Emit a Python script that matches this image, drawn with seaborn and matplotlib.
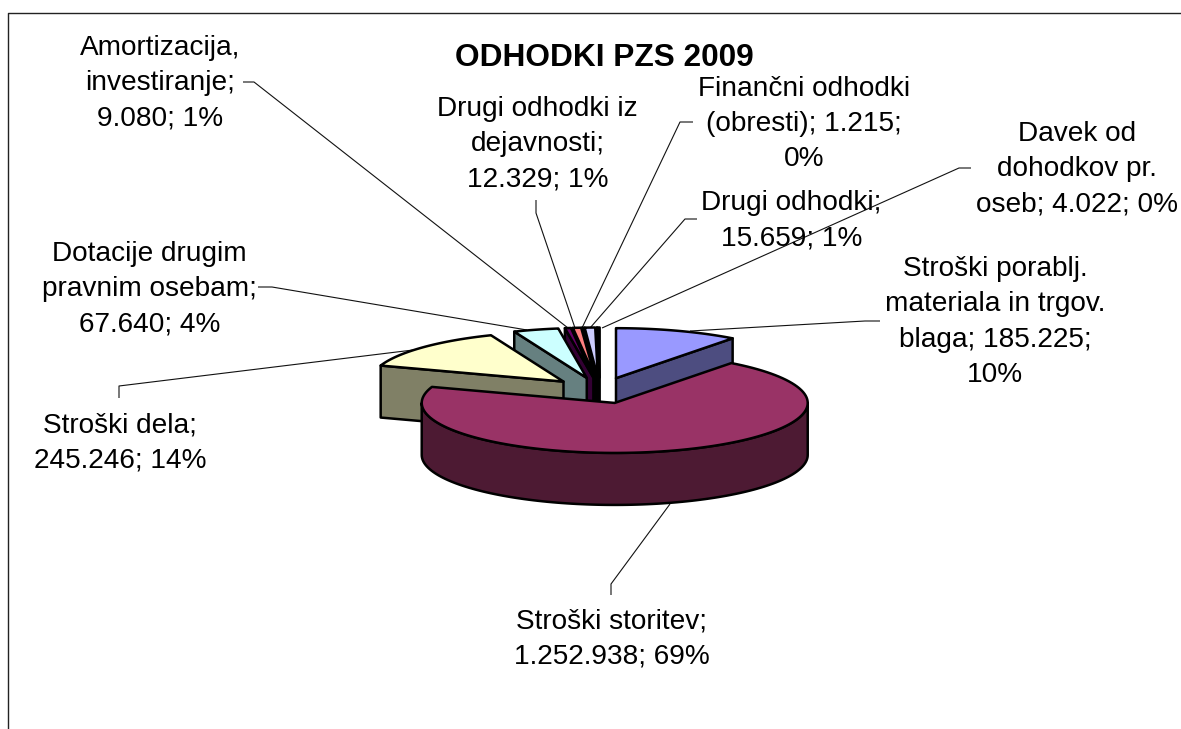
import numpy as np
import matplotlib
matplotlib.use("Agg")
import matplotlib.pyplot as plt
from matplotlib.patches import Polygon
import seaborn as sns

# ---- data ----
categories = ["Stroški porablj. materiala in trgov. blaga", "Stroški storitev", "Stroški dela",
              "Dotacije drugim pravnim osebam", "Amortizacija, investiranje",
              "Drugi odhodki iz dejavnosti", "Finančni odhodki (obresti)", "Drugi odhodki",
              "Davek od dohodkov pr. oseb"]
values = [185225, 1252938, 245246, 67640, 9080, 12329, 1215, 15659, 4022]
percents = [10, 69, 14, 4, 1, 1, 0, 1, 0]
colors = ["#9999FF", "#993366", "#FFFFCC", "#CCFFFF", "#660066", "#FF8080", "#0066CC", "#CCCCFF", "#000080"]
title = "ODHODKI PZS 2009"
label_lines = [
    ["Stroški porablj.", "materiala in trgov.", "blaga; {v};", "{p}"],
    ["Stroški storitev;", "{v}; {p}"],
    ["Stroški dela;", "{v}; {p}"],
    ["Dotacije drugim", "pravnim osebam;", "{v}; {p}"],
    ["Amortizacija,", "investiranje;", "{v}; {p}"],
    ["Drugi odhodki iz", "dejavnosti;", "{v}; {p}"],
    ["Finančni odhodki", "(obresti); {v};", "{p}"],
    ["Drugi odhodki;", "{v}; {p}"],
    ["Davek od", "dohodkov pr.", "oseb; {v}; {p}"],
]
# label centre x, baseline y of the first line
label_pos = [(995, 276), (612, 628), (120, 432), (149.5, 261), (160, 55), (537.5, 116), (804, 95.5), (791.5, 210), (1077, 141)]
leaders = [
    [(880, 321), (865, 321), (690, 331)],
    [(611, 595), (611, 584), (670, 504)],
    [(119, 398), (119, 386), (413, 350)],
    [(258, 287), (272, 287), (527, 330)],
    [(243, 82), (254, 82), (568, 328)],
    [(536, 200), (536, 213), (575, 328)],
    [(693, 122), (680, 122), (582, 328)],
    [(697, 219), (685, 219), (590, 328)],
    [(971, 168), (959, 168), (602, 328)],
]

# ---- pie geometry (pixels) ----
CX, CY, RX, RY, DEPTH, EXPLODE = 600, 390.5, 193, 50, 52, 0.26
SPACING = 35.4

sns.set_theme(style="white")
plt.rcParams["font.family"] = ["Liberation Sans", "DejaVu Sans"]
palette = sns.color_palette(colors)

fig = plt.figure(figsize=(11.81, 7.29), dpi=100, facecolor="white")
ax = fig.add_axes([0, 0, 1, 1])
ax.set_xlim(0, 1181)
ax.set_ylim(729, 0)
ax.axis("off")

# frame of the chart area
ax.plot([8, 8, 1181], [729, 13, 13], color="#222222", lw=1.0, solid_capstyle="butt")


def rim(ox, oy, a0, a1, n=120):
    t = np.radians(np.linspace(a0, a1, n))
    return np.column_stack([ox + RX * np.sin(t), oy - RY * np.cos(t)])


total = sum(values)
edges = np.concatenate([[0], np.cumsum(values)]) / total * 360
slices = []
for i, col in enumerate(palette):
    a0, a1 = edges[i], edges[i + 1]
    mid = np.radians((a0 + a1) / 2)
    ox = CX + EXPLODE * RX * np.sin(mid)
    oy = CY - EXPLODE * RY * np.cos(mid)
    slices.append((i, col, a0, a1, ox, oy))

# back slices first, the big front slice last
order = sorted(slices, key=lambda s: s[5])
z = 3
for i, col, a0, a1, ox, oy in order:
    dark = tuple(c * 0.5 for c in col)
    kw = dict(closed=True, edgecolor="black", lw=1.8, joinstyle="round")
    # radial side faces
    faces = []
    if a0 > 180:
        faces.append(a0)
    if a1 < 180:
        faces.append(a1)
    for a in faces:
        e = rim(ox, oy, a, a, 1)[0]
        ax.add_patch(Polygon([(ox, oy), tuple(e), (e[0], e[1] + DEPTH), (ox, oy + DEPTH)],
                             facecolor=dark, zorder=z, **kw))
        z += 1
    # outer wall
    lo, hi = max(a0, 90), min(a1, 270)
    if lo < hi:
        arc = rim(ox, oy, lo, hi)
        wall = np.vstack([arc, (arc + [0, DEPTH])[::-1]])
        ax.add_patch(Polygon(wall, facecolor=dark, zorder=z, **kw))
        z += 1
    # top face
    top = np.vstack([[ox, oy], rim(ox, oy, a0, a1)])
    ax.add_patch(Polygon(top, facecolor=col, zorder=z, **kw))
    z += 1

# leader lines
for pts in leaders:
    xs, ys = zip(*pts)
    ax.plot(xs, ys, color="#111111", lw=0.8, zorder=2, solid_capstyle="butt")

# labels
for lines, (x, y), v, p in zip(label_lines, label_pos, values, percents):
    vtxt = f"{v:,}".replace(",", ".")
    for k, line in enumerate(lines):
        ax.text(x, y + k * SPACING, line.format(v=vtxt, p=f"{p}%"), ha="center", va="baseline",
                fontsize=20.15, color="black", zorder=60)

ax.text(604, 66, title, ha="center", va="baseline", fontsize=22.75, fontweight="bold", color="black", zorder=60)

fig.savefig("out.png", dpi=100, facecolor="white")
